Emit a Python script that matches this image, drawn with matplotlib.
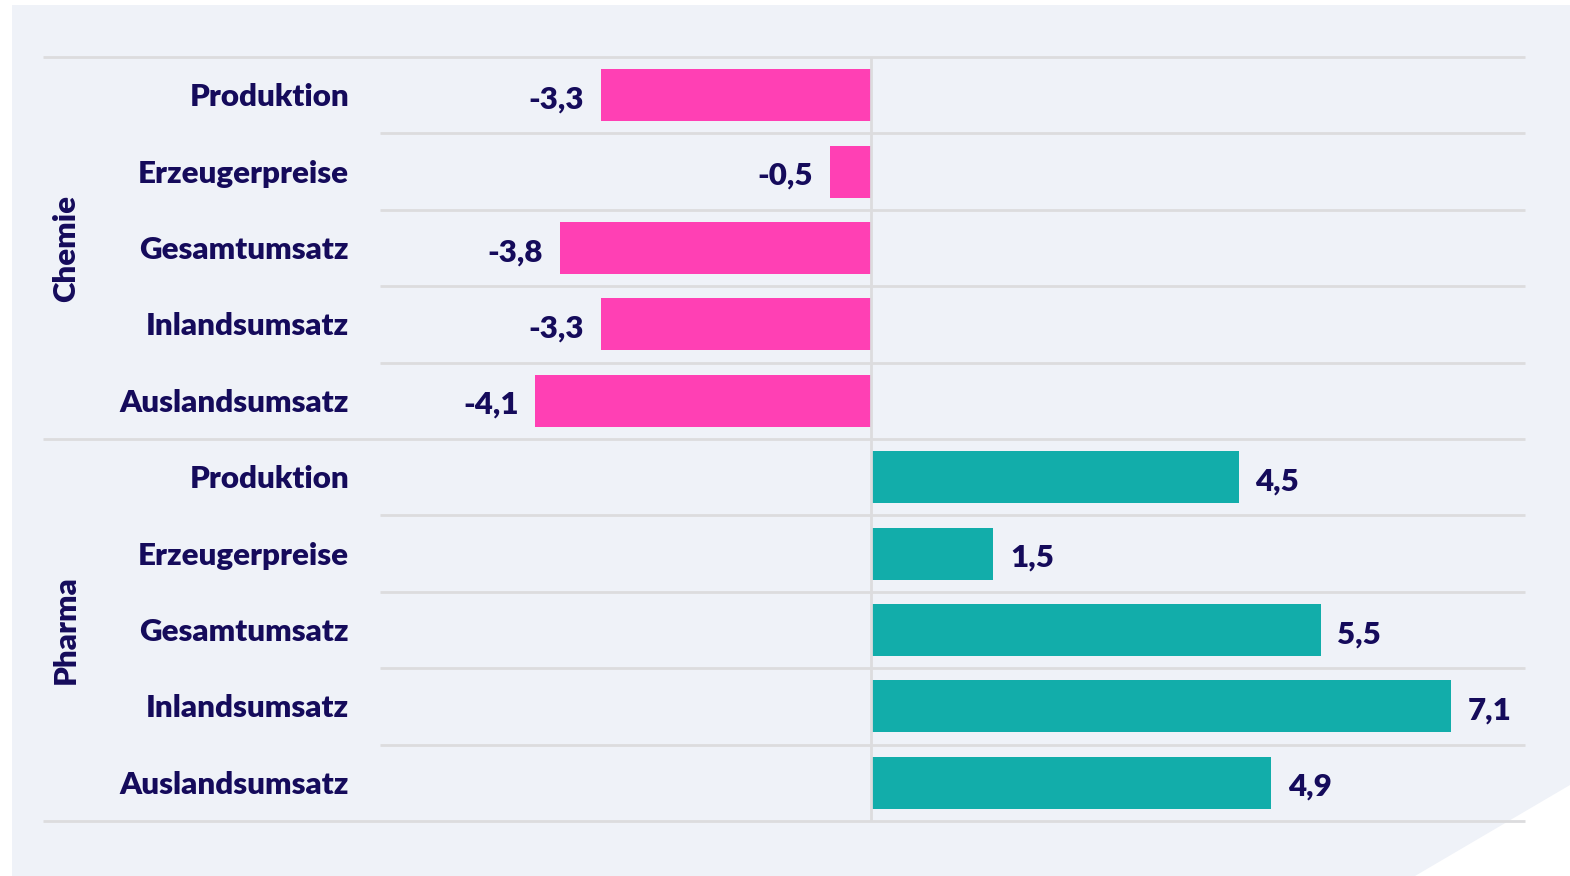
import matplotlib.pyplot as plt
from matplotlib.patches import Rectangle, Polygon
from matplotlib.transforms import blended_transform_factory

# data
groups = ["Chemie", "Pharma"]
categories = ["Produktion", "Erzeugerpreise", "Gesamtumsatz", "Inlandsumsatz", "Auslandsumsatz"]
chemie = [-3.3, -0.5, -3.8, -3.3, -4.1]
pharma = [4.5, 1.5, 5.5, 7.1, 4.9]

pink = "#ff40b4"
teal = "#12adaa"
navy = "#150b5b"
grid = "#dcdcde"
bg = "#eff2f8"

plt.rcParams['font.family'] = ['Lato', 'DejaVu Sans']
FS = 22.5
FW = 800

W, H = 1570, 876
fig = plt.figure(figsize=(W / 100, H / 100), dpi=100)
fig.patch.set_facecolor("white")

# background panel with white cut corner
fig.patches.append(Rectangle((12 / W, 0), 1 - 12 / W, 1 - 5 / H, transform=fig.transFigure,
                             facecolor=bg, edgecolor="none", zorder=-10))
fig.patches.append(Polygon([(1, 1 - 785 / H), (1, 0), (1415 / W, 0)], closed=True,
                           transform=fig.transFigure, facecolor="white", edgecolor="none", zorder=-9))

left, right, top, bottom = 380, 1525, 57, 821
ax = fig.add_axes([left / W, 1 - bottom / H, (right - left) / W, (bottom - top) / H])
ax.set_facecolor("none")

values = chemie + pharma
labels = categories + categories
colors = [pink] * len(chemie) + [teal] * len(pharma)
ypos = list(range(len(values)))

ax.barh(ypos, values, height=0.68, color=colors, zorder=3)
ax.set_xlim(-6, 8)
ax.set_ylim(len(values) - 0.5, -0.5)

for s in ax.spines.values():
    s.set_visible(False)
ax.set_xticks([])
ax.set_yticks([])

# separators
trans = blended_transform_factory(ax.transAxes, ax.transData)
ext = (43 - left) / (right - left)
for k in range(len(values) + 1):
    y = k - 0.5
    x0 = ext if k % len(categories) == 0 else 0
    ax.plot([x0, 1], [y, y], transform=trans, color=grid, lw=2, clip_on=False, zorder=1,
            solid_capstyle="butt")
ax.axvline(0, color=grid, lw=2, zorder=4)

# category labels
ftrans = blended_transform_factory(fig.transFigure, ax.transData)
for y, lab in zip(ypos, labels):
    ax.annotate(lab, (349 / W, y), xycoords=ftrans, xytext=(0, -1.5), textcoords="offset points",
                ha="right", va="center", fontsize=FS, fontweight=FW, color=navy)

# value labels
for y, v in zip(ypos, values):
    txt = f"{v:.1f}".replace(".", ",")
    ax.annotate(txt, (v, y), xytext=(12 if v > 0 else -12, -3), textcoords="offset points",
                ha="left" if v > 0 else "right", va="center", fontsize=FS,
                fontweight=FW, color=navy)

# group labels
n = len(categories)
for i, g in enumerate(groups):
    yc = i * n + (n - 1) / 2
    ax.text(66 / W, yc, g, transform=ftrans, rotation=90, ha="center", va="center",
            fontsize=FS, fontweight=FW, color=navy)

fig.savefig("out.png", dpi=100, facecolor=fig.get_facecolor())
